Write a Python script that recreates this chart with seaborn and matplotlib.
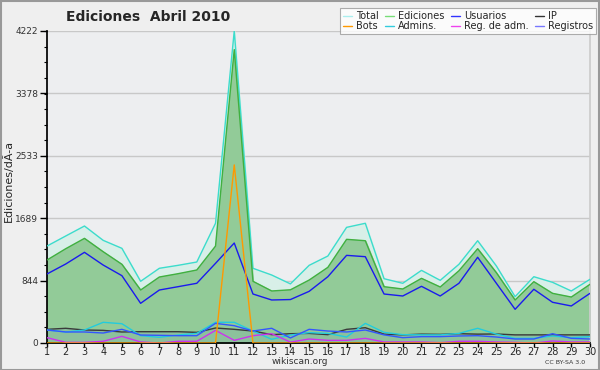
import matplotlib
matplotlib.use("Agg")
import matplotlib.pyplot as plt
import seaborn as sns
import pandas as pd
import numpy as np
from matplotlib.lines import Line2D

days = list(range(1, 31))
total = [1312, 1448, 1583, 1389, 1281, 835, 1011, 1051, 1096, 1620, 4222, 1011, 920, 800,
         1051, 1177, 1565, 1620, 870, 808, 983, 848, 1065, 1384, 1042, 627, 897, 821, 704, 862]
ediciones = [1123, 1276, 1416, 1235, 1065, 717, 893, 938, 988, 1312, 3970, 835, 704, 720,
             852, 1024, 1403, 1384, 762, 731, 875, 758, 978, 1276, 951, 582, 830, 672, 622, 794]
usuarios = [934, 1069, 1227, 1055, 911, 537, 717, 762, 808, 1078, 1353, 663, 582, 588,
            699, 897, 1186, 1168, 663, 636, 767, 636, 808, 1160, 808, 456, 727, 551, 501, 672]
ip = [185, 199, 176, 171, 149, 153, 153, 153, 144, 203, 185, 162, 113, 126,
      130, 113, 185, 207, 120, 110, 120, 117, 126, 120, 122, 110, 110, 110, 110, 110]
bots = [0, 0, 0, 0, 0, 0, 0, 0, 0, 0, 2410, 0, 0, 0,
        0, 0, 0, 0, 0, 0, 0, 0, 0, 0, 0, 0, 0, 0, 0, 0]
admins = [176, 149, 176, 280, 261, 99, 77, 108, 131, 280, 280, 162, 50, 108,
          140, 130, 81, 266, 144, 113, 110, 110, 130, 199, 120, 63, 63, 95, 72, 86]
reg_adm = [72, 9, 9, 23, 90, 14, 0, 23, 23, 171, 36, 99, 126, 12,
           54, 36, 36, 63, 14, 14, 14, 5, 23, 23, 14, 9, 0, 27, 14, 14]
registros = [176, 149, 149, 135, 185, 108, 104, 99, 99, 266, 234, 162, 199, 68,
             185, 162, 149, 176, 110, 72, 86, 86, 95, 99, 81, 54, 54, 126, 63, 54]
yticks = [0, 844, 1689, 2533, 3378, 4222]
title = "Ediciones  Abril 2010"
ylabel = "Ediciones/dÃ-a"

df = pd.DataFrame({"day": days, "Total": total, "Ediciones": ediciones, "Usuarios": usuarios,
                   "IP": ip, "Bots": bots, "Admins.": admins, "Reg. de adm.": reg_adm,
                   "Registros": registros})

sns.set_theme(style="white")
plt.rcParams['font.family'] = ['DejaVu Sans']

fig = plt.figure(figsize=(6, 3.7), dpi=100)
fig.patch.set_facecolor("#efefef")
ax = fig.add_axes([47/600, 1-343/370, 543/600, 312/370])
ax.set_facecolor("#edeef0")

for y in yticks[1:]:
    ax.axhline(y, color="#c8c8c8", lw=1, zorder=0)

ax.fill_between(df["day"], df["Total"], color="#d8efe8", zorder=1)
ax.fill_between(df["day"], df["Ediciones"], color="#92cb98", zorder=2)
ax.fill_between(df["day"], df["IP"], color="#88b8a0", alpha=0.5, zorder=2.5)

colors = {"Total": "#3cdccc", "Ediciones": "#40b040", "Usuarios": "#1a1aee", "IP": "#3a3a3a",
          "Bots": "#ff9900", "Admins.": "#22ccdd", "Reg. de adm.": "#cc33ee", "Registros": "#3355ff"}
order = ["Total", "Ediciones", "Usuarios", "IP", "Admins.", "Registros", "Reg. de adm.", "Bots"]
for name in order:
    sns.lineplot(data=df, x="day", y=name, ax=ax, color=colors[name], lw=1, zorder=3)

ax.set_xlim(1, 30)
ax.set_ylim(0, 4222)
ax.set_xticks(days)
ax.set_xticklabels([str(d) for d in days], fontsize=7)
ax.set_yticks(yticks)
ax.set_yticklabels([str(v) for v in yticks], fontsize=6.5, color="#333333")
ax.set_yticks(np.arange(0, 4222, 211), minor=True)
ax.tick_params(axis="y", which="major", length=5, width=1, color="black", left=True, pad=1.5)
ax.tick_params(axis="y", which="minor", length=2.5, width=0.8, color="black", left=True)
ax.tick_params(axis="x", which="major", length=3, width=1, color="black", bottom=True, pad=0)
ax.set_xlabel("")
ax.set_ylabel("")
ax.spines["top"].set_visible(False)
ax.spines["right"].set_color("#cccccc")
ax.spines["left"].set_color("black")
ax.spines["bottom"].set_color("black")

fig.text(8/600, 1-181/370, ylabel, fontsize=8, rotation=90, ha="center", va="center")
fig.text(148/600, 1-17/370, title, fontsize=10, fontweight="bold", ha="center", va="center")
fig.text(300/600, 1-362/370, "wikiscan.org", fontsize=6.5, ha="center", va="center", color="#333333")
fig.text(565/600, 1-363/370, "CC BY-SA 3.0", fontsize=4.5, ha="center", va="center", color="#333333")

leg_colors = {"Total": "#aaeeee", "Ediciones": "#77dd77", "Usuarios": "#3333ff", "IP": "#333333",
              "Bots": "#ff9900", "Admins.": "#33ccdd", "Reg. de adm.": "#ee44ee", "Registros": "#7777ff"}
leg_order = ["Total", "Bots", "Ediciones", "Admins.", "Usuarios", "Reg. de adm.", "IP", "Registros"]
handles = [Line2D([0], [0], color=leg_colors[n], lw=1) for n in leg_order]
leg = fig.legend(handles, leg_order, ncol=4, loc="upper right", bbox_to_anchor=(596/600, 1-8/370),
                 fontsize=7, frameon=True, fancybox=False, handlelength=0.9, handletextpad=0.4,
                 columnspacing=0.7, labelspacing=0.05, borderpad=0.3, borderaxespad=0)
leg.get_frame().set_edgecolor("#999999")
leg.get_frame().set_linewidth(0.8)

border = plt.Rectangle((0.001, 0.001), 0.997, 0.997, transform=fig.transFigure, fill=False,
                       edgecolor="#999999", lw=1.5)
fig.add_artist(border)

fig.savefig("out.png", dpi=100, facecolor=fig.get_facecolor())
